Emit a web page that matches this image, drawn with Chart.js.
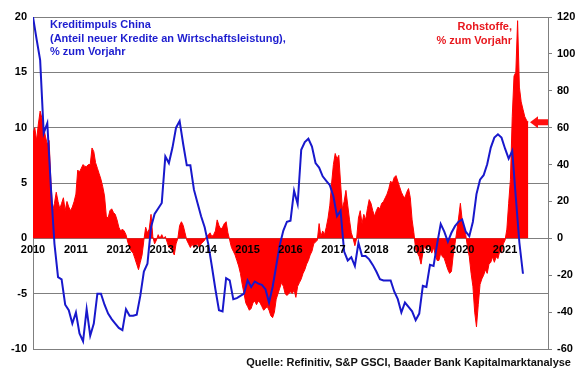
<!DOCTYPE html>
<html>
<head>
<meta charset="utf-8">
<script src="https://cdn.jsdelivr.net/npm/chart.js@4"></script>
<style>
    html, body { margin: 0; padding: 0; background: #fff; }
    #wrap { position: relative; width: 580px; height: 375px; font-family: "Liberation Sans", Arial, sans-serif; font-weight: bold; }
    canvas { position: absolute; left: 0; top: 0; }
    .t { position: absolute; font-size: 11px; line-height: 13.5px; white-space: nowrap; }
</style>
</head>
<body>
<div id="wrap">
    <canvas id="chart" width="580" height="375"></canvas>
    <div class="t" style="left:50px;top:18px;color:#1d1dcf">Kreditimpuls China<br>(Anteil neuer Kredite an Wirtschaftsleistung),<br>% zum Vorjahr</div>
    <div class="t" style="right:68px;top:20px;color:#e8181e;text-align:right">Rohstoffe,<br>% zum Vorjahr</div>
    <div class="t" style="right:9px;top:356px;color:#111">Quelle: Refinitiv, S&amp;P GSCI, Baader Bank Kapitalmarktanalyse</div>
</div>
<script>
// x axis: months since Jan 2010
const years = [2010, 2011, 2012, 2013, 2014, 2015, 2016, 2017, 2018, 2019, 2020, 2021];

// Kreditimpuls China, monthly from Jan 2010 (left axis)
const creditImpulse = [
    20, 18.0, 16.1, 9.5, 10.4, 4.6, -0.5, -3.5, -3.7, -6.0,
    -6.5, -7.7, -6.7, -8.6, -9.3, -6.4, -8.8, -7.7, -5.0, -5.0,
    -6.0, -6.8, -7.3, -7.7, -8.1, -8.3, -6.4, -7.0, -7.0, -6.9,
    -5.2, -3.0, -2.3, 1.0, 2.2, 2.7, 3.2, 7.4, 6.8, 8.2,
    10.0, 10.6, 8.5, 6.6, 6.6, 4.4, 3.2, 2.0, 1.0, -0.5,
    -2.5, -4.6, -6.5, -6.6, -3.6, -3.8, -5.5, -5.4, -5.2, -5.0,
    -3.8, -4.4, -3.9, -4.1, -4.2, -4.6, -5.8, -4.4, -2.5, -0.6,
    0.7, 1.5, 1.6, 4.3, 3.1, 8.0, 8.7, 9.0, 8.3, 6.8,
    6.4, 5.6, 5.2, 4.8, 3.8, 2.0, 2.5, -1.2, -2.0, -1.7,
    -2.5, -0.4, -1.6, -1.6, -1.9, -2.4, -3.0, -3.7, -3.8, -3.8,
    -3.8, -4.8, -5.5, -6.7, -5.8, -6.2, -6.6, -7.4, -6.8, -4.3,
    -4.4, -2.4, -2.5, -0.5, 1.3, 0.6, -0.3, 0.5, 1.1, 1.5,
    1.7, 0.6, 0.2, 1.5, 4.0, 5.3, 5.7, 6.7, 8.2, 9.1,
    9.4, 9.1, 8.1, 7.2, 7.9, 3.7, -0.4, -3.2
];

// Rohstoffe (S&P GSCI) % yoy, twice a month from Jan 2010 (right axis)
const commodities = [
    57, 60, 53, 62, 69, 65, 60, 55, 51, 53,
    31, 15, 19, 25, 20, 16, 19, 22, 15, 20,
    17, 15, 17, 20, 24, 37, 36, 38, 40, 39,
    39, 40, 40, 49, 47, 41, 38, 35, 32, 28,
    23, 12, 11, 15, 16, 14,
    13, 10, 6, 4, 5,
    4, 2, -2, -5, -7, -8, -11, -14, -17, -13,
    -9, -1, 6, 3, 5, 13, 1, -3, -1, 2,
    0, 2, 0, 1, -2, -5, -5, -7, -9, -3,
    0, 7, 9, 7, 3, -1, -3, -5, -3, -5,
    -4, -3, -5, -3, -2, -1, 1, 2, 3, 1, 2,
    4, 10, 7, 5, 6, 8, 9, 3, -1, -5,
    -7, -9, -12, -15, -19, -25, -30, -35, -37, -39,
    -38, -35, -34, -36, -34, -35, -37, -39, -38, -37,
    -39, -42, -43, -40, -33, -30, -27, -24, -26, -30,
    -31, -30, -29, -30, -28, -32, -26, -24, -22, -19,
    -17, -14, -12, -9, -7, -3, -2,
    -1, 8, 1, 4,
    2, 6, 11, 18, 30, 40, 46, 43, 45, 30,
    16, 20, 26, 18, 10, 3, 0, -4, 0, 11,
    15, 8, 13, 10, 16, 21, 19, 15, 12, 15,
    17, 16, 19, 20, 22, 24, 27, 31, 30, 33,
    34, 31, 28, 25, 23, 22, 25, 27, 22, 10,
    3, -6, -8,
    -10, -14, -8, -4, -6, -4, -5, -8,
    -5, -9, -12, -12, -8, -10, -11, -14, -17, -19,
    -18, -9, -3, 4, 11, 19, 10, 6, 2, -5,
    -10, -19, -26, -40, -48, -36, -25, -22, -20, -17,
    -19, -14, -13, -10, -13, -10, -11, -7, -8, -3,
    -1, 5, 19, 32, 66, 88, 90, 118, 82, 74,
    70, 66, 64, 63
];

// level marked by the red arrow on the right axis
const arrowLevel = 63;

const yearTicks = years.map(y => (y - 2010) * 12);

Chart.defaults.font.family = "'Liberation Sans', Arial, sans-serif";
Chart.defaults.font.weight = 'bold';
Chart.defaults.font.size = 11;
Chart.defaults.color = '#000';

// Arrow pointing at the latest commodity level
const arrowPlugin = {
    id: 'arrow',
    afterDatasetsDraw(chart) {
        const ctx = chart.ctx;
        const y = chart.scales.y2.getPixelForValue(arrowLevel);
        const right = chart.chartArea.right;
        const tip = right - 18;
        ctx.save();
        ctx.fillStyle = '#ff1010';
        ctx.beginPath();
        ctx.moveTo(tip, y);
        ctx.lineTo(tip + 8, y - 6);
        ctx.lineTo(tip + 8, y - 3);
        ctx.lineTo(right, y - 3);
        ctx.lineTo(right, y + 3);
        ctx.lineTo(tip + 8, y + 3);
        ctx.lineTo(tip + 8, y + 6);
        ctx.closePath();
        ctx.fill();
        ctx.restore();
    }
};

const ctx = document.getElementById('chart').getContext('2d');
const chart = new Chart(ctx, {
    type: 'line',
    data: {
        datasets: [
            {
                label: 'Kreditimpuls China',
                data: creditImpulse.map((v, i) => ({ x: i, y: v })),
                yAxisID: 'y',
                borderColor: '#1818cc',
                borderWidth: 2,
                pointRadius: 0,
                tension: 0,
                fill: false
            },
            {
                label: 'Rohstoffe',
                data: commodities.map((v, i) => ({ x: i / 2, y: v })),
                yAxisID: 'y2',
                borderColor: '#ff0000',
                backgroundColor: '#ff0000',
                borderWidth: 1,
                pointRadius: 0,
                tension: 0,
                fill: 'origin'
            }
        ]
    },
    options: {
        responsive: false,
        animation: false,
        layout: { padding: { top: 17, bottom: 26, left: 0, right: 0 } },
        plugins: {
            legend: { display: false },
            tooltip: { enabled: false }
        },
        scales: {
            x: {
                type: 'linear',
                min: 0,
                max: 144,
                position: { y: 0 },
                grid: { display: false, drawTicks: false },
                border: { display: false },
                afterBuildTicks: s => { s.ticks = yearTicks.map(v => ({ value: v })); },
                ticks: {
                    z: 1,
                    autoSkip: false,
                    maxRotation: 0,
                    padding: 5,
                    callback: v => String(2010 + v / 12)
                }
            },
            y: {
                position: 'left',
                min: -10,
                max: 20,
                ticks: { stepSize: 5, padding: 6 },
                grid: { color: '#7f7f7f', drawTicks: false },
                border: { color: '#7f7f7f' },
                afterFit: s => { s.width = 33; }
            },
            y2: {
                position: 'right',
                min: -60,
                max: 120,
                ticks: { stepSize: 20, padding: 5 },
                grid: { drawOnChartArea: false, color: '#7f7f7f', tickLength: 4 },
                border: { color: '#7f7f7f' },
                afterFit: s => { s.width = 32; }
            }
        }
    },
    plugins: [arrowPlugin]
});
</script>
</body>
</html>
